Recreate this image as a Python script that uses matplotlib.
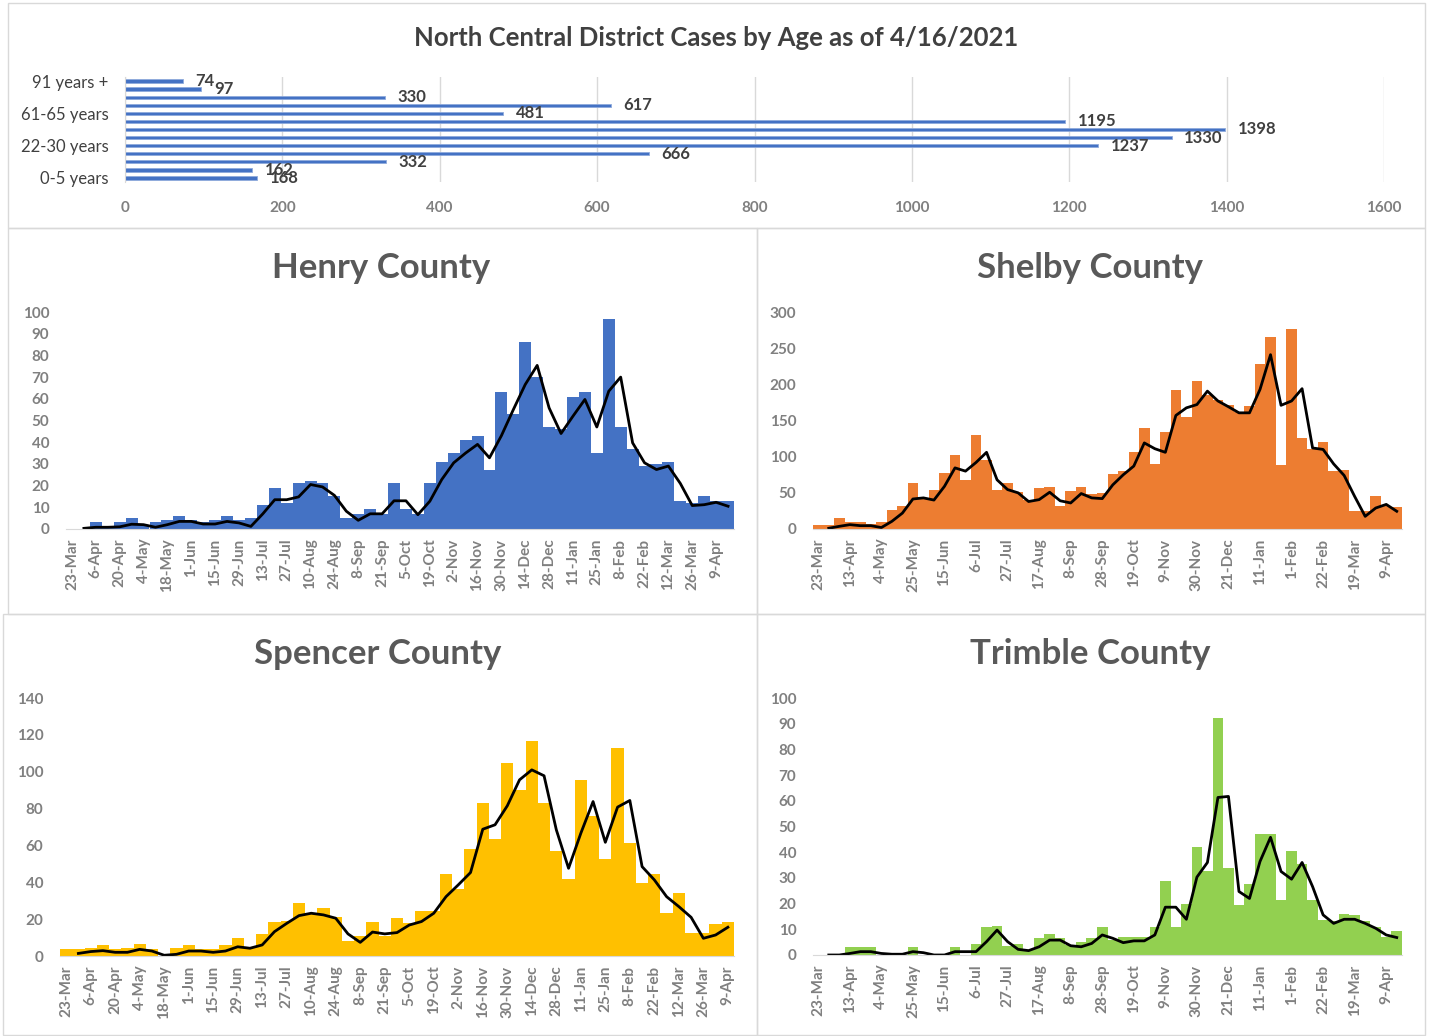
import matplotlib
matplotlib.use("Agg")
import matplotlib.pyplot as plt
import numpy as np
from matplotlib.patches import Rectangle

plt.rcParams['font.family'] = ['Lato', 'DejaVu Sans']

nan = np.nan

# age breakdown (bottom to top, as the bar chart draws it)
age_groups = ['0-5 years', '6-10 years', '11-17 years', '18-21 years', '22-30 years',
              '31-40 years', '41-50 years', '51-60 years', '61-65 years', '66-70 years',
              '71-80 years', '81-90 years', '91 years +']
age_cases = [168, 162, 332, 666, 1237, 1330, 1398, 1195, 481, 617, 330, 97, 74]

# week starting dates (category labels)
weeks = ['23-Mar', '30-Mar', '6-Apr', '13-Apr', '20-Apr', '27-Apr', '4-May', '11-May',
         '18-May', '25-May', '1-Jun', '8-Jun', '15-Jun', '22-Jun', '29-Jun', '6-Jul',
         '13-Jul', '20-Jul', '27-Jul', '3-Aug', '10-Aug', '17-Aug', '24-Aug', '31-Aug',
         '8-Sep', '14-Sep', '21-Sep', '28-Sep', '5-Oct', '12-Oct', '19-Oct', '26-Oct',
         '2-Nov', '9-Nov', '16-Nov', '23-Nov', '30-Nov', '7-Dec', '14-Dec', '21-Dec',
         '28-Dec', '4-Jan', '11-Jan', '18-Jan', '25-Jan', '1-Feb', '8-Feb', '15-Feb',
         '22-Feb', '1-Mar', '12-Mar', '19-Mar', '26-Mar', '2-Apr', '9-Apr', '16-Apr']

henry_cases = [0, 0, 3, 1, 3, 5, 2, 3, 4, 6, 4, 3, 4, 6, 4, 5, 11, 19, 12, 21,
               22, 21, 15, 5, 7, 9, 7, 21, 9, 7, 21, 31, 35, 41, 43, 27, 63, 53, 86, 70,
               47, 46, 61, 63, 35, 97, 47, 37, 29, 30, 31, 13, 12, 15, 13, 13]
henry_avg = [nan, 0.3, 0.8, 0.8, 1, 2.2, 2, 0.8, 2, 3.5, 3.5, 2.3, 2.3, 3.5, 2.8, 1.2,
             7, 13.5, 13.5, 14.8, 20.5, 19.4, 15.5, 8.2, 4, 7, 7, 13, 13, 6.6, 12.8,
             22.8, 30.5, 35, 39, 32.8, 43, 55, 66.6, 75.4, 55.8, 44, 52, 59.7, 47, 63.5,
             70, 39.7, 30.5, 27.4, 29, 21, 10.8, 11.2, 12.3, 10.5]

shelby_cases = [5.5, 5.5, 15.7, 10, 10, 7.4, 10, 26, 32, 64, 42, 54.5, 78, 102, 68, 130,
                95, 54.5, 64, 51, 40, 56, 58, 32, 52, 58, 48, 50, 76, 80, 106, 140, 90,
                134, 192, 155, 204, 185, 178, 171, 161.5, 170, 227.5, 266, 89, 276, 126,
                111, 120, 80, 82, 24.5, 24.5, 45, 32, 31]
shelby_avg = [nan, 1, 3.7, 6, 4.6, 4.6, 2, 10.6, 22, 41.5, 43, 40, 59, 84.5, 80, 92, 106,
              68, 54.5, 50, 38, 40.6, 50.8, 39, 36, 49, 43, 42, 61, 75, 87, 119, 111, 106,
              157, 167.5, 172, 190.6, 177, 169, 160.6, 160.6, 193, 241, 171, 177, 194,
              112, 110, 90, 74, 45, 17.5, 29, 34, 24.5]

spencer_cases = [3.6, 3.6, 4.5, 5.8, 3.6, 4.3, 6.5, 3.6, 0, 4.3, 5.8, 4, 4, 5.8, 10, 5,
                 12, 18.3, 19.2, 28.6, 23, 26, 21, 8.1, 10.9, 18.3, 11, 20.8, 18, 24.6,
                 24.6, 44.4, 36.4, 58.3, 82.8, 63.4, 105, 90.2, 116.6, 83, 57.2, 42, 95.6,
                 76, 52.5, 112.8, 61.2, 39.8, 44.4, 23.2, 34, 12.3, 12.3, 17.4, 18.3]
spencer_avg = [nan, 1.4, 2.4, 2.9, 2, 2, 3.6, 2.7, 0.4, 0.9, 2.7, 2.7, 2, 2.7, 5, 4.2, 6,
               13.2, 17.7, 21.9, 23.2, 22.3, 20.5, 12, 7.4, 13, 12, 12.7, 16.8, 18.7,
               23.2, 32.2, 38.6, 45.3, 68.8, 71.2, 81.5, 95.6, 101, 97.8, 68.5, 47.6,
               66.6, 83.8, 61.7, 80.8, 84.4, 48.5, 41.3, 32.2, 26.8, 21, 9.6, 11.4, 15.6]

trimble_cases = [0, 0, 0, 3, 3, 3, 0, 0, 0, 3.2, 0, 0, 0, 3.2, 0, 4.3, 10.8, 11.3, 3.5,
                 4.2, 2, 6.5, 8.2, 6.5, 3.9, 5.2, 6.5, 11, 5.8, 6.9, 6.9, 7.1, 11, 28.6,
                 11, 20, 42.2, 32.5, 92.2, 33.8, 19.5, 27.5, 47.1, 47.1, 21.4, 40.3, 35.5,
                 21.4, 13.6, 13.4, 16, 15.5, 13.4, 11, 7.1, 9.5]
trimble_avg = [nan, 0, 0, 0.6, 1.3, 1.3, 0.6, 0.3, 0.3, 1.3, 0.9, 0, 0, 1.3, 1.3, 1.3,
               5.2, 9.7, 5.2, 2.2, 1.7, 3.2, 5.8, 5.8, 3.6, 3.2, 4.5, 7.8, 6.5, 4.8, 5.5,
               5.5, 7.8, 18.6, 18.6, 13.9, 30.3, 36, 61.3, 61.7, 24.7, 22, 36.4, 45.8,
               32.5, 29.5, 36, 26.6, 15.6, 12.3, 13.9, 13.9, 12.3, 10.4, 7.8, 6.8]

W, H = 1429, 1036
fig = plt.figure(figsize=(W / 100, H / 100), dpi=100)
fig.patch.set_facecolor('white')

grey = '#808080'
dark = '#404040'
border = '#D9D9D9'


def px_axes(left, top, right, bottom):
    return fig.add_axes([left / W, 1 - bottom / H, (right - left) / W, (bottom - top) / H])


def box(left, top, right, bottom):
    fig.add_artist(Rectangle((left / W, 1 - bottom / H), (right - left) / W,
                             (bottom - top) / H, transform=fig.transFigure,
                             fill=False, edgecolor=border, lw=1))


# chart frames
box(8, 3, 1425, 228)
box(8, 228, 757, 614)
box(757, 228, 1425, 614)
box(3, 614, 757, 1035)
box(757, 614, 1425, 1035)

# ---- age chart ----
ax = px_axes(125, 77, 1384, 182)
y = np.arange(len(age_groups))
ax.barh(y, age_cases, height=0.4, color='#4472C4', edgecolor='#8FAADC', linewidth=0.6)
for yi, v in zip(y, age_cases):
    ax.annotate(str(v), (v, yi), xytext=(9, 0), textcoords='offset points',
                va='center', ha='left', fontsize=12, color=dark, fontweight='bold')
ax.set_xlim(0, 1600)
ax.set_ylim(-0.5, len(age_groups) - 0.5)
ax.set_xticks(np.arange(0, 1601, 200))
ax.set_yticks(y[::4])
ax.set_yticklabels(age_groups[::4], color=dark, fontsize=12)
ax.grid(axis='x', color=border, lw=1)
ax.set_axisbelow(True)
for s in ['top', 'right', 'bottom']:
    ax.spines[s].set_visible(False)
ax.spines['left'].set_color(border)
ax.tick_params(length=0)
ax.tick_params(axis='x', pad=14, colors=grey, labelsize=11)
for t in ax.get_xticklabels():
    t.set_fontweight('bold')
ax.tick_params(axis='y', pad=12)
fig.text(716 / W, 1 - 38 / H, 'North Central District Cases by Age as of 4/16/2021',
         ha='center', va='center', fontsize=18.5, color=dark, fontweight='bold')


def county(rect, title, tx, ty, cases, avg, color, ymax, ystep, step):
    ax = px_axes(*rect)
    x = np.arange(len(cases))
    ax.bar(x, cases, width=1.0, color=color, linewidth=0)
    ax.plot(x, avg, color='black', lw=2)
    ax.set_xlim(-0.5, len(cases) - 0.5)
    ax.set_ylim(0, ymax)
    ax.set_yticks(np.arange(0, ymax + 1, ystep))
    ax.set_xticks(x[::step])
    ax.set_xticklabels(weeks[:len(cases)][::step], rotation=90)
    for s in ['top', 'right', 'left']:
        ax.spines[s].set_visible(False)
    ax.spines['bottom'].set_color(border)
    ax.tick_params(length=0, colors=grey, labelsize=11)
    ax.tick_params(axis='y', pad=12)
    ax.tick_params(axis='x', pad=7)
    for t in ax.get_xticklabels() + ax.get_yticklabels():
        t.set_fontweight('bold')
    fig.text(tx / W, 1 - ty / H, title, ha='center', va='center', fontsize=25,
             color='#595959', fontweight='bold')


county((66, 312, 734, 529), 'Henry County', 381, 268, henry_cases, henry_avg,
       '#4472C4', 100, 10, 2)
county((813, 312, 1402, 529), 'Shelby County', 1090, 268, shelby_cases, shelby_avg,
       '#ED7D31', 300, 50, 3)
county((60, 698, 734, 956), 'Spencer County', 378, 654, spencer_cases, spencer_avg,
       '#FFC000', 140, 20, 2)
county((813, 698, 1402, 955), 'Trimble County', 1090, 654, trimble_cases, trimble_avg,
       '#92D050', 100, 10, 3)

fig.savefig('out.png', dpi=100)
